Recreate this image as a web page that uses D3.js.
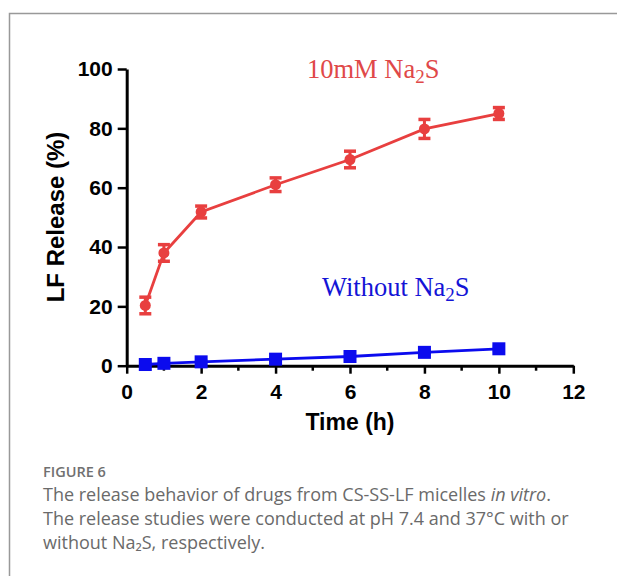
<!DOCTYPE html>
<html>
<head>
<meta charset="utf-8">
<title>LF release</title>
<script src="https://d3js.org/d3.v7.min.js"></script>
<style>
  body { margin: 0; background: #fff; }
  svg { display: block; }
</style>
</head>
<body>
<svg id="fig" width="617" height="576"></svg>
<script>
// time points (h) and cumulative LF release (%)
var times = [0.5, 1, 2, 4, 6, 8, 10];
var withNa2S = [20.3, 38, 51.8, 61, 69.5, 79.8, 85];
var withNa2SErr = [2.8, 2.8, 2, 2.3, 2.8, 3.2, 2];
var withoutNa2S = [0.4, 0.8, 1.3, 2.2, 3.1, 4.5, 5.7];
var withoutNa2SErr = [0.3, 0.3, 0.4, 0.4, 0.5, 0.5, 0.6];
var xTicks = [0, 2, 4, 6, 8, 10, 12];
var xMinor = [1, 3, 5, 7, 9, 11];
var yTicks = [0, 20, 40, 60, 80, 100];

var red = "#e83f3f", blue = "#0b0bee";

var svg = d3.select("#fig");

// frame around the figure
svg.append("path")
  .attr("d", "M9.5,576V13.5H617")
  .attr("fill", "none")
  .attr("stroke", "#999")
  .attr("stroke-width", 1.5);

var x = d3.scaleLinear().domain([0, 12]).range([126.7, 573.3]);
var y = d3.scaleLinear().domain([0, 100]).range([365.7, 69]);

var tickFont = "'Liberation Sans', Arial, sans-serif";

// x axis
var gx = svg.append("g").attr("transform", "translate(0," + y(0) + ")")
  .call(d3.axisBottom(x).tickValues(xTicks).tickSize(8).tickSizeOuter(0).tickPadding(10));
gx.selectAll(".minor").data(xMinor).enter().append("line")
  .attr("class", "minor")
  .attr("x1", function(d) { return x(d); }).attr("x2", function(d) { return x(d); })
  .attr("y1", 0).attr("y2", 5)
  .attr("stroke", "#000").attr("stroke-width", 2.5);

// y axis
var gy = svg.append("g").attr("transform", "translate(" + x(0) + ",0)")
  .call(d3.axisLeft(y).tickValues(yTicks).tickSize(9).tickSizeOuter(0).tickPadding(5));

[gx, gy].forEach(function(g) {
  g.select(".domain").attr("stroke", "#000").attr("stroke-width", 3);
  g.selectAll(".tick line").attr("stroke", "#000").attr("stroke-width", 2.5);
  g.selectAll(".tick text")
    .attr("fill", "#000")
    .style("font-family", tickFont)
    .style("font-weight", "bold")
    .style("font-size", "21px");
});

// axis titles
svg.append("text")
  .attr("x", x(6)).attr("y", 430)
  .attr("text-anchor", "middle")
  .style("font-family", tickFont).style("font-weight", "bold").style("font-size", "23px")
  .text("Time (h)");

svg.append("text")
  .attr("transform", "translate(64,217) rotate(-90)")
  .attr("text-anchor", "middle")
  .style("font-family", tickFont).style("font-weight", "bold").style("font-size", "24px")
  .text("LF Release (%)");

var line = d3.line()
  .x(function(d) { return x(d[0]); })
  .y(function(d) { return y(d[1]); });

function drawSeries(vals, errs, color, shape) {
  var pts = times.map(function(t, i) { return [t, vals[i], errs[i]]; });
  var g = svg.append("g");
  g.append("path").datum(pts)
    .attr("d", line)
    .attr("fill", "none")
    .attr("stroke", color)
    .attr("stroke-width", 2.8);
  var eb = g.selectAll(".err").data(pts).enter().append("g").attr("class", "err");
  eb.append("line")
    .attr("x1", function(d) { return x(d[0]); }).attr("x2", function(d) { return x(d[0]); })
    .attr("y1", function(d) { return y(d[1] - d[2]); }).attr("y2", function(d) { return y(d[1] + d[2]); })
    .attr("stroke", color).attr("stroke-width", 3);
  [-1, 1].forEach(function(s) {
    eb.append("line")
      .attr("x1", function(d) { return x(d[0]) - 6; }).attr("x2", function(d) { return x(d[0]) + 6; })
      .attr("y1", function(d) { return y(d[1] + s * d[2]); }).attr("y2", function(d) { return y(d[1] + s * d[2]); })
      .attr("stroke", color).attr("stroke-width", 3.5);
  });
  if (shape === "circle") {
    g.selectAll(".pt").data(pts).enter().append("circle")
      .attr("cx", function(d) { return x(d[0]); })
      .attr("cy", function(d) { return y(d[1]); })
      .attr("r", 5.5)
      .attr("fill", color);
  } else {
    g.selectAll(".pt").data(pts).enter().append("rect")
      .attr("x", function(d) { return x(d[0]) - 6.5; })
      .attr("y", function(d) { return y(d[1]) - 6.5; })
      .attr("width", 13).attr("height", 13)
      .attr("fill", color);
  }
}

drawSeries(withoutNa2S, withoutNa2SErr, blue, "square");
drawSeries(withNa2S, withNa2SErr, red, "circle");

// in-plot series labels
function seriesLabel(xp, yp, pre, color) {
  var t = svg.append("text")
    .attr("x", xp).attr("y", yp)
    .style("font-family", "'Liberation Serif', 'Times New Roman', serif")
    .style("font-size", "26.5px")
    .attr("fill", color);
  t.append("tspan").text(pre + "Na");
  t.append("tspan").attr("dy", 5).style("font-size", "19px").text("2");
  t.append("tspan").attr("dy", -5).text("S");
}
seriesLabel(307, 78, "10mM ", "#e04848");
seriesLabel(322, 296, "Without ", "#1414d6");

// caption
var capFont = "'Open Sans', 'Noto Sans', sans-serif";
svg.append("text")
  .attr("x", 43).attr("y", 477)
  .attr("fill", "#707070")
  .style("font-family", capFont).style("font-weight", 600).style("font-size", "14.5px")
  .text("FIGURE 6");

var cap = svg.append("text")
  .attr("fill", "#6a6a6a")
  .style("font-family", capFont).style("font-size", "18px");
var l1 = cap.append("tspan").attr("x", 43).attr("y", 501);
l1.append("tspan").text("The release behavior of drugs from CS-SS-LF micelles ");
l1.append("tspan").style("font-style", "italic").text("in vitro");
l1.append("tspan").text(".");
cap.append("tspan").attr("x", 43).attr("y", 525)
  .text("The release studies were conducted at pH 7.4 and 37°C with or");
cap.append("tspan").attr("x", 43).attr("y", 549)
  .text("without Na\u2082S, respectively.");
</script>
</body>
</html>
